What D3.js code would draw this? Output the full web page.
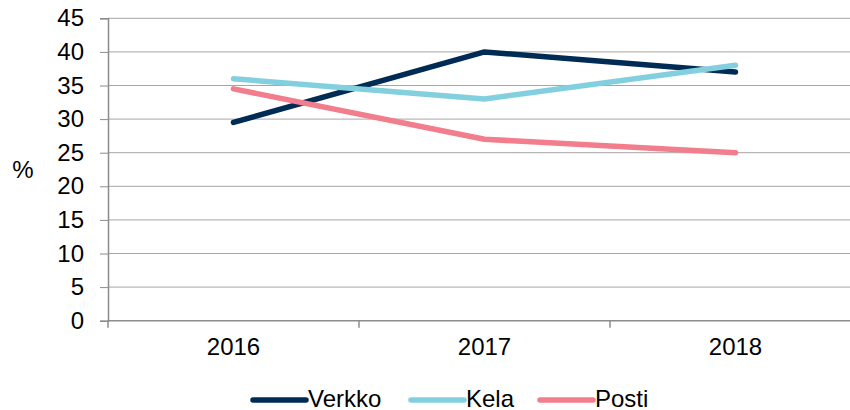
<!DOCTYPE html>
<html>
<head>
<meta charset="utf-8">
<script src="https://cdn.jsdelivr.net/npm/d3@7"></script>
<style>
  body { margin: 0; background: #fff; }
  text { font-family: "Liberation Sans", Arial, sans-serif; fill: #000; }
</style>
</head>
<body>
<div id="chart"></div>
<script>
// Data
const years = ["2016", "2017", "2018"];
const verkko = [29.5, 40, 37];
const kela = [36, 33, 38];
const posti = [34.5, 27, 25];
const seriesNames = ["Verkko", "Kela", "Posti"];
const seriesColors = ["#002b54", "#82d0df", "#f27d8c"];
const yTicks = [0, 5, 10, 15, 20, 25, 30, 35, 40, 45];

const series = [verkko, kela, posti].map((vals, i) => ({
    name: seriesNames[i],
    color: seriesColors[i],
    values: vals.map((v, j) => ({year: years[j], value: v}))
}));

const width = 850, height = 410;
const plotLeft = 108, plotRight = 861, plotTop = 18.3, plotBottom = 320.7;

const svg = d3.select("#chart")
    .append("svg")
    .attr("width", width)
    .attr("height", height);

// Scales
const xScale = d3.scaleBand()
    .domain(years)
    .range([plotLeft, plotRight]);

const yScale = d3.scaleLinear()
    .domain([0, 45])
    .range([plotBottom, plotTop]);

// Gridlines
svg.append("g")
    .selectAll("line")
    .data(yTicks)
    .enter().append("line")
    .attr("x1", plotLeft)
    .attr("x2", plotRight)
    .attr("y1", d => yScale(d))
    .attr("y2", d => yScale(d))
    .attr("stroke", d => d === 0 ? "#8c8c8c" : "#a6a6a6")
    .attr("stroke-width", d => d === 0 ? 1.5 : 1);

// Y axis
const yAxis = svg.append("g")
    .attr("transform", `translate(${plotLeft},0)`)
    .call(d3.axisLeft(yScale).tickValues(yTicks).tickSize(8).tickPadding(16));
yAxis.select(".domain").attr("stroke", "#8c8c8c").attr("stroke-width", 1.5);
yAxis.selectAll(".tick line").attr("stroke", "#8c8c8c");
yAxis.selectAll(".tick text")
    .style("font-size", "24px")
    .style("font-family", "Liberation Sans, Arial, sans-serif")
    .attr("fill", "#000");

// X axis
const xAxis = svg.append("g")
    .attr("transform", `translate(0,${plotBottom})`)
    .call(d3.axisBottom(xScale).tickSize(0).tickPadding(17));
xAxis.select(".domain").remove();
xAxis.selectAll(".tick text")
    .style("font-size", "24px")
    .style("font-family", "Liberation Sans, Arial, sans-serif")
    .attr("fill", "#000");

// Category boundary ticks
svg.append("g")
    .selectAll("line")
    .data(years)
    .enter().append("line")
    .attr("x1", d => xScale(d))
    .attr("x2", d => xScale(d))
    .attr("y1", plotBottom)
    .attr("y2", plotBottom + 7)
    .attr("stroke", "#8c8c8c")
    .attr("stroke-width", 1.5);

// Y axis label
svg.append("text")
    .attr("x", 23)
    .attr("y", 178)
    .style("text-anchor", "middle")
    .style("font-size", "24px")
    .text("%");

// Lines
const line = d3.line()
    .x(d => xScale(d.year) + xScale.bandwidth() / 2)
    .y(d => yScale(d.value));

svg.append("g")
    .selectAll("path")
    .data(series)
    .enter().append("path")
    .attr("d", d => line(d.values))
    .attr("fill", "none")
    .attr("stroke", d => d.color)
    .attr("stroke-width", 5.5)
    .attr("stroke-linecap", "round")
    .attr("stroke-linejoin", "round");

// Legend
const legendX = [253, 411, 540];
const legend = svg.selectAll(".legend")
    .data(series)
    .enter().append("g")
    .attr("class", "legend")
    .attr("transform", (d, i) => `translate(${legendX[i]},400)`);

legend.append("line")
    .attr("x1", 0)
    .attr("x2", 53)
    .attr("y1", 0)
    .attr("y2", 0)
    .attr("stroke", d => d.color)
    .attr("stroke-width", 5.5)
    .attr("stroke-linecap", "round");

legend.append("text")
    .attr("x", 55)
    .attr("y", 6.5)
    .style("font-size", "24px")
    .text(d => d.name);
</script>
</body>
</html>
